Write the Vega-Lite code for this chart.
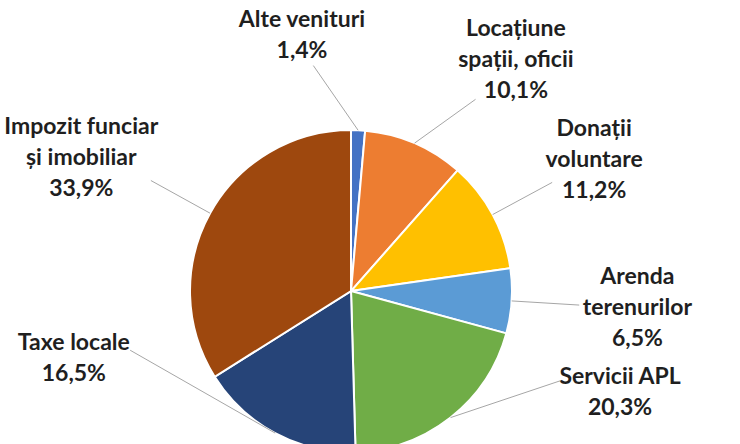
{
  "$schema": "https://vega.github.io/schema/vega-lite/v6.json",
  "width": 740,
  "height": 444,
  "autosize": "none",
  "padding": 0,
  "background": "white",
  "config": {"view": {"stroke": null}},
  "data": {
    "values": [
      {"order": 1, "cat": "Alte venituri", "label": "Alte venituri\n1,4%", "pct": 1.4},
      {"order": 2, "cat": "Locațiune spații, oficii", "label": "Locațiune\nspații, oficii\n10,1%", "pct": 10.1},
      {"order": 3, "cat": "Donații voluntare", "label": "Donații\nvoluntare\n11,2%", "pct": 11.2},
      {"order": 4, "cat": "Arenda terenurilor", "label": "Arenda\nterenurilor\n6,5%", "pct": 6.5},
      {"order": 5, "cat": "Servicii APL", "label": "Servicii APL\n20,3%", "pct": 20.3},
      {"order": 6, "cat": "Taxe locale", "label": "Taxe locale\n16,5%", "pct": 16.5},
      {"order": 7, "cat": "Impozit funciar și imobiliar", "label": "Impozit funciar\nși imobiliar\n33,9%", "pct": 33.9}
    ]
  },
  "transform": [
    {"joinaggregate": [{"op": "sum", "field": "pct", "as": "total"}]},
    {"stack": "pct", "groupby": [], "sort": [{"field": "order", "order": "ascending"}], "as": ["s0", "s1"]},
    {"calculate": "(datum.s0 + datum.s1) / 2 / datum.total * 360", "as": "mid"},
    {"calculate": "datum.mid < 180 ? (datum.mid < 10 ? datum.mid - 12 : clamp(datum.mid, 33, 113)) : clamp(datum.mid, 255, 360)", "as": "la"},
    {"calculate": "datum.la * PI / 180", "as": "lr"},
    {"calculate": "datum.mid * PI / 180", "as": "mr"},
    {"calculate": "split(datum.label, '\\n')", "as": "parts"},
    {"calculate": "length(datum.parts)", "as": "n"},
    {"calculate": "max(length(datum.parts[0]), datum.n > 1 ? length(datum.parts[1]) : 0, datum.n > 2 ? length(datum.parts[2]) : 0)", "as": "nch"},
    {"calculate": "datum.nch * 10.6 / 2 / 161", "as": "hw"},
    {"calculate": "datum.n * 31 / 2 / 161", "as": "hh"},
    {"calculate": "sin(datum.mr)", "as": "ex"},
    {"calculate": "cos(datum.mr)", "as": "ey"},
    {"calculate": "1.42 * sin(datum.lr)", "as": "qx"},
    {"calculate": "1.42 * cos(datum.lr)", "as": "qy"},
    {"calculate": "datum.qx + datum.hw * sin(datum.lr)", "as": "lx"},
    {"calculate": "datum.qy + datum.hh * cos(datum.lr) + (datum.n - 1) / 2 * 31 / 161", "as": "ly"}
  ],
  "layer": [
    {
      "mark": {"type": "arc", "outerRadius": 161, "stroke": "white", "strokeWidth": 2},
      "encoding": {
        "theta": {"field": "pct", "type": "quantitative", "stack": true},
        "order": {"field": "order", "type": "quantitative"},
        "color": {
          "field": "cat",
          "type": "nominal",
          "scale": {
            "domain": ["Alte venituri", "Locațiune spații, oficii", "Donații voluntare", "Arenda terenurilor", "Servicii APL", "Taxe locale", "Impozit funciar și imobiliar"],
            "range": ["#4472C4", "#ED7D31", "#FFC000", "#5B9BD5", "#70AD47", "#264478", "#9E480E"]
          },
          "legend": null
        },
        "x": {"datum": 0, "type": "quantitative", "scale": {"domain": [-2.18, 2.416], "nice": false, "zero": false}, "axis": null},
        "y": {"datum": 0, "type": "quantitative", "scale": {"domain": [-0.95, 1.808], "nice": false, "zero": false}, "axis": null}
      }
    },
    {
      "mark": {"type": "rule", "color": "#A6A6A6", "strokeWidth": 1},
      "encoding": {
        "x": {"field": "ex", "type": "quantitative", "scale": {"domain": [-2.18, 2.416], "nice": false, "zero": false}, "axis": null},
        "y": {"field": "ey", "type": "quantitative", "scale": {"domain": [-0.95, 1.808], "nice": false, "zero": false}, "axis": null},
        "x2": {"field": "qx"},
        "y2": {"field": "qy"}
      }
    },
    {
      "mark": {"type": "text", "font": "Lato", "fontWeight": "bold", "fontSize": 23, "lineBreak": "\n", "lineHeight": 31, "align": "center", "baseline": "middle", "color": "#1f1f1f"},
      "encoding": {
        "x": {"field": "lx", "type": "quantitative", "scale": {"domain": [-2.18, 2.416], "nice": false, "zero": false}, "axis": null},
        "y": {"field": "ly", "type": "quantitative", "scale": {"domain": [-0.95, 1.808], "nice": false, "zero": false}, "axis": null},
        "text": {"field": "label"}
      }
    }
  ]
}
